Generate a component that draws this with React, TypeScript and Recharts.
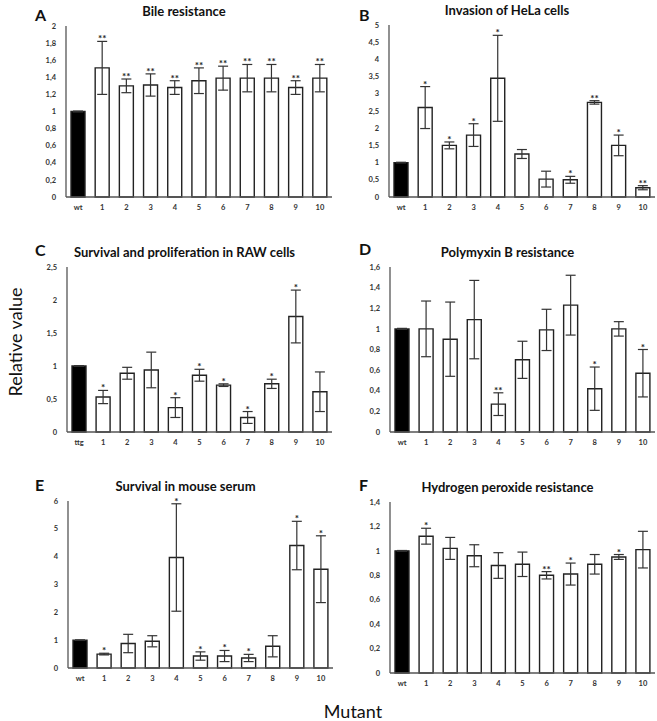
import { BarChart, Bar, XAxis, YAxis, ErrorBar, Cell, LabelList } from "recharts"

const cats = ["wt", "1", "2", "3", "4", "5", "6", "7", "8", "9", "10"]
const catsC = ["ttg", "1", "2", "3", "4", "5", "6", "7", "8", "9", "10"]

// A - bile
const bileMean = [1, 1.51, 1.3, 1.31, 1.28, 1.36, 1.39, 1.39, 1.39, 1.28, 1.39]
const bileErr = [0.005, 0.31, 0.08, 0.13, 0.08, 0.15, 0.14, 0.16, 0.16, 0.08, 0.16]
const bileSig = ["", "**", "**", "**", "**", "**", "**", "**", "**", "**", "**"]

// B - HeLa invasion
const helaMean = [1, 2.6, 1.5, 1.8, 3.45, 1.25, 0.52, 0.5, 2.75, 1.5, 0.27]
const helaErr = [0.01, 0.61, 0.1, 0.33, 1.25, 0.13, 0.23, 0.1, 0.05, 0.3, 0.06]
const helaSig = ["", "*", "*", "*", "*", "", "", "*", "**", "*", "**"]

// C - RAW cells
const rawMean = [1, 0.53, 0.89, 0.94, 0.37, 0.86, 0.71, 0.22, 0.73, 1.75, 0.61]
const rawErr = [0.005, 0.1, 0.09, 0.27, 0.15, 0.09, 0.02, 0.09, 0.07, 0.4, 0.3]
const rawSig = ["", "*", "", "", "*", "*", "*", "*", "*", "*", ""]

// D - polymyxin B
const polyMean = [1, 1.0, 0.9, 1.09, 0.27, 0.7, 0.99, 1.23, 0.42, 1.0, 0.57]
const polyErr = [0.005, 0.27, 0.36, 0.38, 0.11, 0.18, 0.2, 0.29, 0.21, 0.07, 0.23]
const polySig = ["", "", "", "", "**", "", "", "", "*", "", "*"]

// E - mouse serum
const serumMean = [1, 0.5, 0.88, 0.96, 3.97, 0.43, 0.43, 0.36, 0.78, 4.4, 3.55]
const serumErr = [0.01, 0.03, 0.33, 0.2, 1.93, 0.15, 0.2, 0.13, 0.38, 0.87, 1.2]
const serumSig = ["", "*", "", "", "*", "*", "*", "*", "", "*", "*"]

// F - hydrogen peroxide
const h2o2Mean = [1, 1.12, 1.02, 0.96, 0.88, 0.89, 0.8, 0.81, 0.89, 0.95, 1.01]
const h2o2Err = [0.003, 0.065, 0.09, 0.09, 0.105, 0.1, 0.03, 0.09, 0.08, 0.02, 0.15]
const h2o2Sig = ["", "*", "", "", "", "", "**", "*", "", "*", ""]

const FONT = "Lato, 'Open Sans', sans-serif"
const AXIS = "#555"

type PanelProps = {
    title: string
    labels: string[]
    mean: number[]
    err: number[]
    sig: string[]
    max: number
    ticks: number[]
    left: number
    top: number
    right: number
    bottom: number
}

function Panel({ title, labels, mean, err, sig, max, ticks, left, top, right, bottom }: PanelProps) {
    const data = labels.map((c, i) => ({ name: c, v: mean[i], e: err[i], s: sig[i] }))
    const plotW = right - left
    const plotH = bottom - top

    // significance stars sit just above the error bar cap
    const star = (p: any) => {
        const { x, y, width, height, value, index } = p
        if (!value) return null
        const ty = y - (height * err[index]) / mean[index] + 1
        return (
            <text x={x + width / 2} y={ty} textAnchor="middle" fontSize={10} fontWeight={700} fill="#222" fontFamily={FONT}>
                {value}
            </text>
        )
    }

    return (
        <div style={{ position: "absolute", left: left - 30, top: top - 10 }}>
            <BarChart
                width={30 + plotW + 2}
                height={10 + plotH + 20}
                data={data}
                margin={{ top: 10, right: 2, left: 0, bottom: 0 }}
                style={{ overflow: "visible" }}
            >
                <XAxis
                    dataKey="name"
                    height={20}
                    tickLine={false}
                    axisLine={{ stroke: AXIS, strokeWidth: 1.3 }}
                    tick={{ fill: "#333", fontSize: 7.5, fontWeight: 700, fontFamily: FONT }}
                    interval={0}
                />
                <YAxis
                    width={30}
                    domain={[0, max]}
                    ticks={ticks}
                    tickLine={false}
                    axisLine={{ stroke: AXIS, strokeWidth: 1.3 }}
                    tickMargin={4}
                    tickFormatter={(t: number) => String(Math.round(t * 10) / 10).replace(".", ",")}
                    tick={{ fill: "#333", fontSize: 7.5, fontWeight: 700, fontFamily: FONT }}
                />
                <Bar dataKey="v" barSize={14} stroke="#222" strokeWidth={1.4} isAnimationActive={false}>
                    {data.map((d, i) => (
                        <Cell key={d.name} fill={i === 0 ? "#000" : "#fff"} />
                    ))}
                    <ErrorBar dataKey="e" width={5} stroke="#333" strokeWidth={1.2} />
                    <LabelList dataKey="s" content={star} />
                </Bar>
            </BarChart>
            <div
                style={{
                    position: "absolute",
                    left: 0,
                    width: 30 + plotW,
                    top: -13,
                    textAlign: "center",
                    fontFamily: FONT,
                    fontWeight: 700,
                    fontSize: 13,
                    color: "#111",
                    whiteSpace: "nowrap",
                }}
            >
                {title}
            </div>
        </div>
    )
}

const letters = [
    { t: "A", x: 43, y: 15 },
    { t: "B", x: 367, y: 15 },
    { t: "C", x: 43, y: 250 },
    { t: "D", x: 367, y: 249 },
    { t: "E", x: 43, y: 485 },
    { t: "F", x: 367, y: 485 },
]

export default function App() {
    return (
        <div style={{ position: "fixed", left: 0, top: 0, width: 657, height: 721, background: "#fff", overflow: "hidden" }}>
            <Panel title="Bile resistance" labels={cats} mean={bileMean} err={bileErr} sig={bileSig}
                max={2} ticks={[0, 0.2, 0.4, 0.6, 0.8, 1, 1.2, 1.4, 1.6, 1.8, 2]} left={66} top={26} right={332} bottom={197} />
            <Panel title="Invasion of HeLa cells" labels={cats} mean={helaMean} err={helaErr} sig={helaSig}
                max={5} ticks={[0, 0.5, 1, 1.5, 2, 2.5, 3, 3.5, 4, 4.5, 5]} left={389} top={25} right={655} bottom={197} />
            <Panel title="Survival and proliferation in RAW cells" labels={catsC} mean={rawMean} err={rawErr} sig={rawSig}
                max={2.5} ticks={[0, 0.5, 1, 1.5, 2, 2.5]} left={67} top={267} right={332} bottom={432} />
            <Panel title="Polymyxin B resistance" labels={cats} mean={polyMean} err={polyErr} sig={polySig}
                max={1.6} ticks={[0, 0.2, 0.4, 0.6, 0.8, 1, 1.2, 1.4, 1.6]} left={390} top={267} right={655} bottom={432} />
            <Panel title="Survival in mouse serum" labels={cats} mean={serumMean} err={serumErr} sig={serumSig}
                max={6} ticks={[0, 1, 2, 3, 4, 5, 6]} left={68} top={501} right={333} bottom={668} />
            <Panel title="Hydrogen peroxide resistance" labels={cats} mean={h2o2Mean} err={h2o2Err} sig={h2o2Sig}
                max={1.4} ticks={[0, 0.2, 0.4, 0.6, 0.8, 1, 1.2, 1.4]} left={390} top={502} right={655} bottom={673} />

            {letters.map((l) => (
                <div key={l.t} style={{ position: "absolute", left: l.x - 8, top: l.y - 10, fontFamily: FONT, fontWeight: 700, fontSize: 16, color: "#111" }}>
                    {l.t}
                </div>
            ))}

            <svg width={40} height={721} style={{ position: "absolute", left: 0, top: 0 }}>
                <text x={22} y={342} transform="rotate(-90 22 342)" textAnchor="middle" fontFamily={FONT} fontSize={18} fill="#111">
                    Relative value
                </text>
            </svg>
            <div style={{ position: "absolute", left: 303, width: 100, top: 700, textAlign: "center", fontFamily: FONT, fontSize: 18, color: "#111" }}>
                Mutant
            </div>
        </div>
    )
}
